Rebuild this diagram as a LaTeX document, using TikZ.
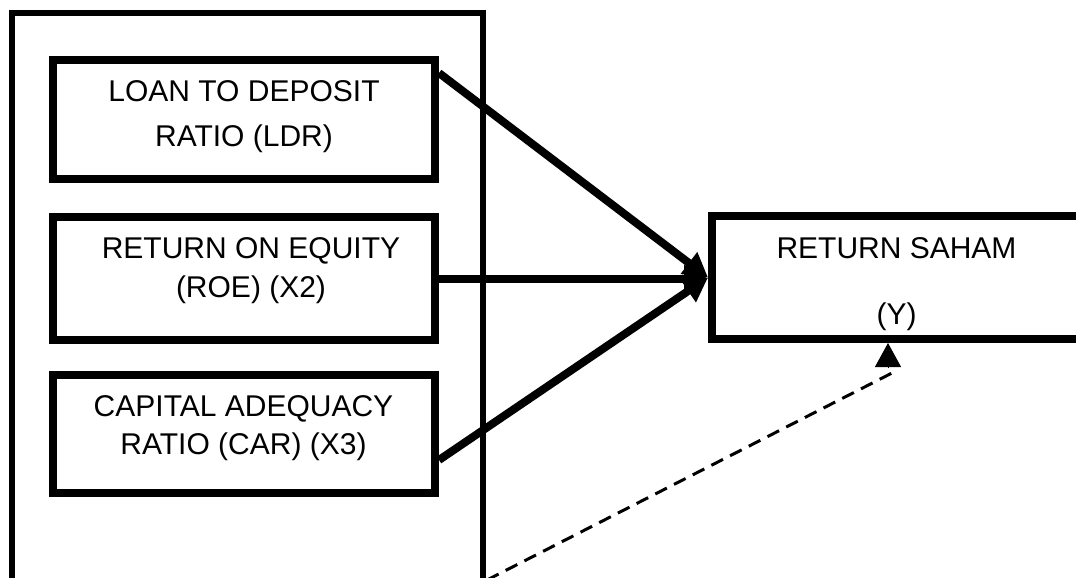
\documentclass[tikz,border=0pt]{standalone}
\usepackage{fontspec}
\setmainfont{Liberation Sans}
\usetikzlibrary{arrows.meta,calc}
\begin{document}
\begin{tikzpicture}[x=1pt,y=-1pt,
  box/.style={draw=black, line width=8pt, minimum width=382pt, inner sep=0pt},
  frame/.style={draw=black, line width=6.5pt, inner sep=0pt},
  txt/.style={font=\fontsize{30}{39}\selectfont, align=center, inner sep=0pt, anchor=north},
  conn/.style={line width=8pt, -{Triangle[length=24pt,width=26pt]}},
  dashconn/.style={line width=3pt, dash pattern=on 13pt off 8pt},
  tipconn/.style={line width=1pt, -{Triangle[length=24pt,width=26pt]}}
]
\useasboundingbox (0,0) rectangle (1076,578);
\clip (0,0) rectangle (1076,578);
\node[frame, minimum width=471pt, minimum height=640pt] (outer) at (247.5,333) {};
\node[box, minimum height=119pt] (ldr) at (244,119.5) {};
\node[box, minimum height=123pt] (roe) at (244,278.5) {};
\node[box, minimum height=118pt] (car) at (244,434) {};
\node[box, minimum width=369pt, minimum height=123pt] (ret) at (896.5,277.5) {};

\node[txt, font=\fontsize{30}{45}\selectfont] (ldrt) at (244,80) {LOAN TO DEPOSIT\\RATIO (LDR)};
\node[txt] (roet) at (251,237) {RETURN ON EQUITY\\(ROE) (X2)};
\node[txt, font=\fontsize{30}{38}\selectfont] (cart) at (243.5,395) {CAPITAL ADEQUACY\\RATIO (CAR) (X3)};
\node[txt, font=\fontsize{30}{66}\selectfont] (rett) at (896.5,237) {RETURN SAHAM\\(Y)};

\draw[conn] ([yshift=-17pt]ldr.north east) -- (ret.west);
\draw[conn] (roe.east) -- (roe.east -| ret.west);
\draw[conn] ([yshift=-26pt]car.east) -- (ret.west);

\coordinate (ds) at (487,580);
\coordinate (de) at (892,373);
\draw[dashconn] (ds) -- (de);
\coordinate (tipb) at (888,368);
\draw[tipconn] (tipb) -- (tipb |- ret.south);
\end{tikzpicture}
\end{document}
